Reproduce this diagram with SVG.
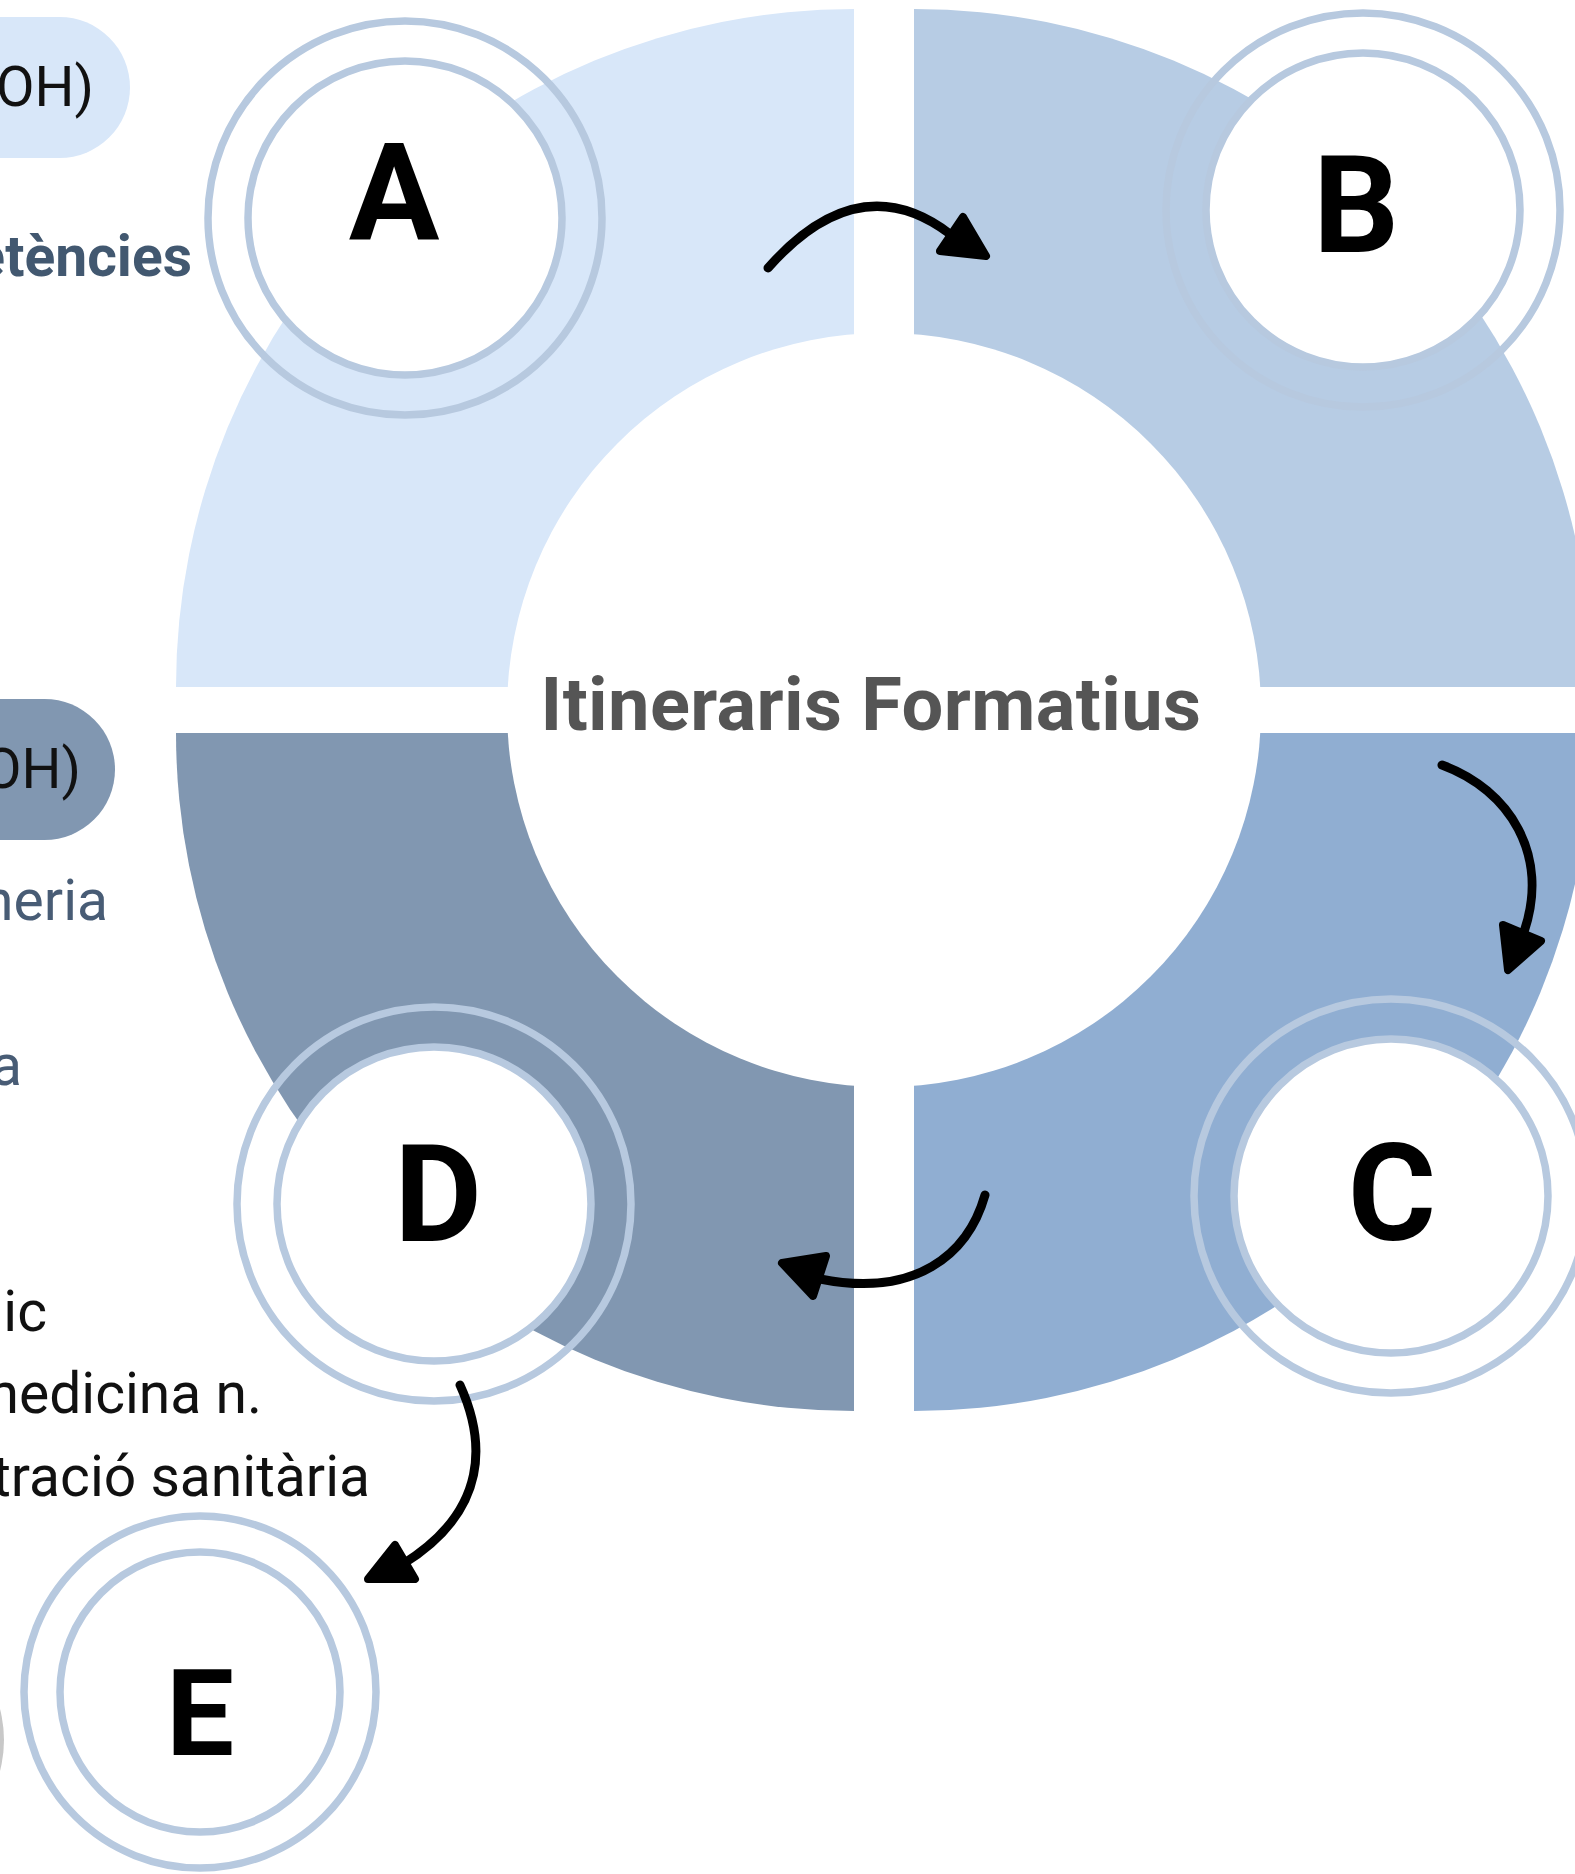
<svg xmlns="http://www.w3.org/2000/svg" width="1575" height="1874" viewBox="0 0 1575 1874">
  <style>
    .ring { fill: none; stroke: #b7c9df; stroke-width: 7.5; }
    .disk { fill: #ffffff; stroke: #b7c9df; stroke-width: 7.5; }
    .letter { font-family: Roboto, "Liberation Sans", sans-serif; font-weight: bold; fill: #000000; text-anchor: middle; }
    .side { font-family: Roboto, "Liberation Sans", sans-serif; text-anchor: end; }
    .conn { fill: none; stroke: #000000; stroke-width: 9; stroke-linecap: round; }
    .head { fill: #000000; stroke: #000000; stroke-width: 8; stroke-linejoin: round; }
  </style>
  <rect x="0" y="0" width="1575" height="1874" fill="#ffffff"/>

  <g id="side-text">
    <rect x="-250" y="17" width="380" height="141" rx="70.5" fill="#d8e7f9"/>
    <text class="side" x="94" y="106" font-size="56" fill="#111111">OH)</text>
    <text class="side" x="192" y="276" font-size="57" font-weight="bold" fill="#425870">etències</text>
    <rect x="-250" y="699" width="365" height="141" rx="70.5" fill="#8197b1"/>
    <text class="side" x="81" y="788" font-size="56" fill="#111111">OH)</text>
    <text class="side" x="108" y="920" font-size="57" fill="#485c75">neria</text>
    <text class="side" x="22" y="1085" font-size="57" fill="#485c75">a</text>
    <text class="side" x="47" y="1331" font-size="57" fill="#111111">ic</text>
    <text class="side" x="262" y="1413" font-size="57" fill="#111111">nedicina n.</text>
    <text class="side" x="370" y="1496" font-size="57" fill="#111111">tració sanitària</text>
    <circle cx="-118" cy="1740" r="122" fill="#c8c8c8"/>
  </g>

  <g id="cycle">
    <path d="M854,687 L176,687 A678,678 0 0 1 854,9 Z" fill="#d8e7f9"/>
    <path d="M914,687 L914,9 A678,678 0 0 1 1592,687 Z" fill="#b7cce4"/>
    <path d="M914,733 L1592,733 A678,678 0 0 1 914,1411 Z" fill="#90aed2"/>
    <path d="M854,733 L854,1411 A678,678 0 0 1 176,733 Z" fill="#8197b1"/>
    <circle cx="884" cy="710" r="377" fill="#ffffff"/>
    <text x="871" y="730" font-family="Roboto, 'Liberation Sans', sans-serif" font-weight="bold" font-size="74" letter-spacing="0.4" fill="#555555" text-anchor="middle">Itineraris Formatius</text>
  </g>

  <g id="node-A">
    <circle class="ring" cx="405" cy="218" r="197"/>
    <circle class="disk" cx="405" cy="218" r="157"/>
    <text class="letter" x="394" y="239" font-size="135">A</text>
  </g>
  <g id="node-B">
    <circle class="ring" cx="1363" cy="210" r="197"/>
    <circle class="disk" cx="1363" cy="210" r="157"/>
    <text class="letter" x="1356" y="252" font-size="135">B</text>
  </g>
  <g id="node-C">
    <circle class="ring" cx="1391" cy="1196" r="197"/>
    <circle class="disk" cx="1391" cy="1196" r="157"/>
    <text class="letter" x="1392" y="1240" font-size="135">C</text>
  </g>
  <g id="node-D">
    <circle class="ring" cx="434" cy="1204" r="197"/>
    <circle class="disk" cx="434" cy="1204" r="157"/>
    <text class="letter" x="438" y="1241" font-size="135">D</text>
  </g>
  <g id="node-E">
    <circle class="ring" cx="200" cy="1692" r="176"/>
    <circle class="disk" cx="200" cy="1692" r="140"/>
    <text class="letter" x="200" y="1755" font-size="121">E</text>
  </g>

  <g id="connectors">
    <path class="conn" d="M768,268 Q859,165 950,234"/>
    <polygon class="head" points="963,217 986,256 940,251"/>
    <path class="conn" d="M1442,765 C1510,790 1550,855 1524,932"/>
    <polygon class="head" points="1503,925 1541,941 1508,970"/>
    <path class="conn" d="M985,1195 C968,1255 915,1298 820,1279"/>
    <polygon class="head" points="782,1263 826,1256 813,1296"/>
    <path class="conn" d="M460,1385 C485,1440 490,1510 403,1564"/>
    <polygon class="head" points="395,1545 415,1579 368,1579"/>
  </g>
</svg>
